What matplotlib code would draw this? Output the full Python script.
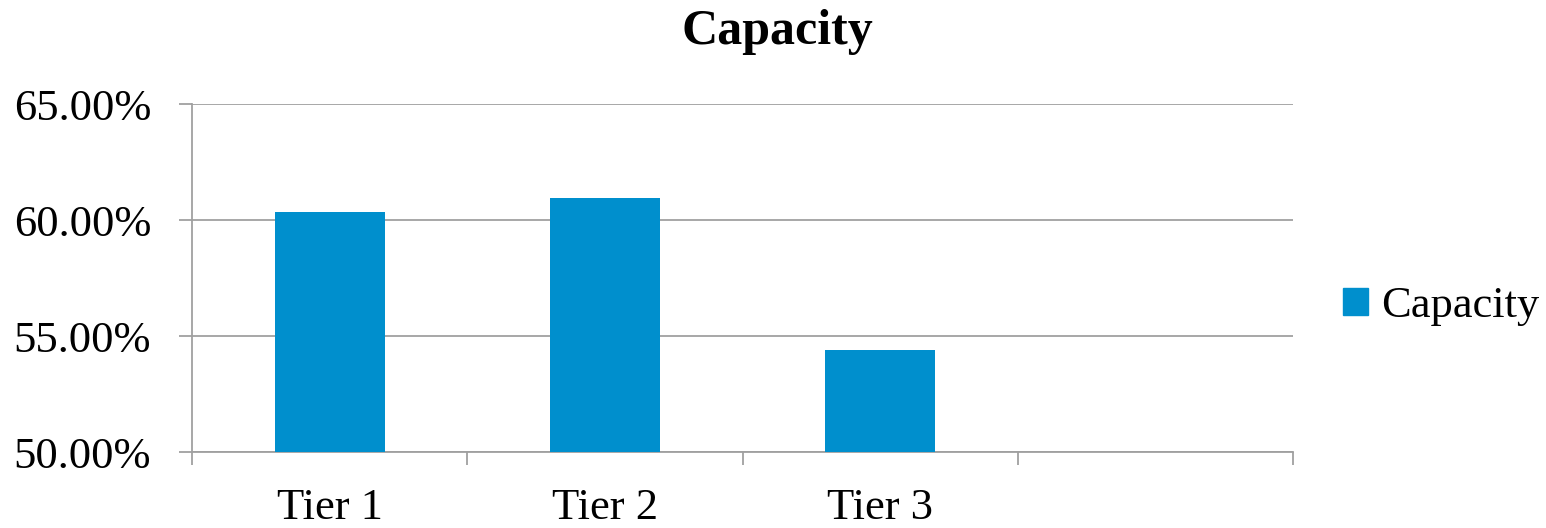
import matplotlib.pyplot as plt
from matplotlib.patches import Patch
from matplotlib.ticker import FuncFormatter, MultipleLocator

# categories and values (the last slot is empty)
tiers = ['Tier 1', 'Tier 2', 'Tier 3', '']
capacity = [60.34, 60.95, 54.40, None]

bar_color = '#008FCD'
grid_color = '#A0A0A0'

plt.rcParams['font.family'] = ['Liberation Serif', 'DejaVu Serif']

fig = plt.figure(figsize=(15.46, 5.28), dpi=100)
ax = fig.add_axes([0.1242, 0.1439, 0.7122, 0.6591])

xs = [i for i, v in enumerate(capacity) if v is not None]
vals = [v for v in capacity if v is not None]
ax.bar(xs, vals, width=0.4, color=bar_color, zorder=3)

ax.set_xlim(-0.5, len(tiers) - 0.5)
ax.set_ylim(50, 65)
ax.yaxis.set_major_locator(MultipleLocator(5))
ax.yaxis.set_major_formatter(FuncFormatter(lambda v, p: f'{v:.2f}%'))

# category labels centred, ticks on the category boundaries
ax.set_xticks(range(len(tiers)))
ax.set_xticklabels(tiers)
ax.tick_params(axis='x', which='major', length=0, pad=26, labelsize=32)
ax.set_xticks([i - 0.5 for i in range(len(tiers) + 1)], minor=True)
ax.tick_params(axis='x', which='minor', length=9.5, width=1.3, color=grid_color)
ax.tick_params(axis='y', length=9.5, width=1.3, color=grid_color, pad=20, labelsize=32)

ax.grid(axis='y', color=grid_color, linewidth=1.3, zorder=0)
for side in ['top', 'right']:
    ax.spines[side].set_visible(False)
for side in ['left', 'bottom']:
    ax.spines[side].set_color(grid_color)
    ax.spines[side].set_linewidth(1.3)

fig.text(0.503, 0.94, 'Capacity', ha='center', va='center', fontsize=36, fontweight='bold')

fig.legend(handles=[Patch(color=bar_color, label='Capacity')],
           loc='center left', bbox_to_anchor=(0.843, 0.42), frameon=False,
           fontsize=32, handlelength=0.55, handleheight=0.55, handletextpad=0.3)

fig.savefig('out.png', dpi=100)
